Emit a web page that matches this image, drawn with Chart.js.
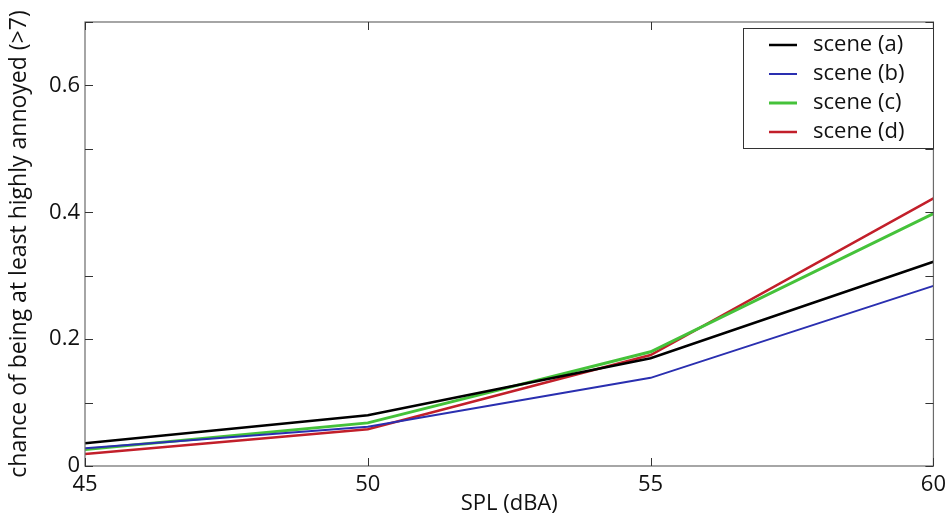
<!DOCTYPE html>
<html>
<head>
<meta charset="utf-8">
<script src="https://cdn.jsdelivr.net/npm/chart.js@4/dist/chart.umd.min.js"></script>
<style>
  html, body { margin: 0; padding: 0; background: #fff; }
  #wrap { width: 952px; height: 517px; }
</style>
</head>
<body>
<div id="wrap"><canvas id="chart" width="952" height="517"></canvas></div>
<script>
// 데이터
const splLevels = [45, 50, 55, 60];
const sceneNames = ['scene (a)', 'scene (b)', 'scene (c)', 'scene (d)'];
const sceneA = [0.036, 0.080, 0.170, 0.322];
const sceneB = [0.028, 0.062, 0.139, 0.284];
const sceneC = [0.026, 0.068, 0.180, 0.398];
const sceneD = [0.019, 0.058, 0.175, 0.422];
const yTickLabels = [0, 0.2, 0.4, 0.6];

const sceneColors = ['#000000', '#2a2fb0', '#45c23a', '#c21f2a'];
const sceneWidths = [2.5, 2, 3, 2.5];

function toPoints(values) {
    return splLevels.map((x, i) => ({ x: x, y: values[i] }));
}

const datasets = [sceneA, sceneB, sceneC, sceneD].map((vals, i) => ({
    label: sceneNames[i],
    data: toPoints(vals),
    borderColor: sceneColors[i],
    backgroundColor: sceneColors[i],
    borderWidth: sceneWidths[i],
    pointRadius: 0,
    tension: 0
}));

// 축 박스와 안쪽 눈금
const boxPlugin = {
    id: 'boxPlugin',
    afterDatasetsDraw(chart) {
        const ctx = chart.ctx;
        const a = chart.chartArea;
        const xs = chart.scales.x;
        const ys = chart.scales.y;
        ctx.save();
        ctx.strokeStyle = '#6b6b6b';
        ctx.lineWidth = 1.2;
        ctx.strokeRect(a.left, a.top, a.right - a.left, a.bottom - a.top);
        ctx.strokeStyle = '#333';
        ctx.lineWidth = 1;
        ctx.beginPath();
        xs.ticks.forEach(t => {
            const px = Math.round(xs.getPixelForValue(t.value)) + 0.5;
            ctx.moveTo(px, a.bottom); ctx.lineTo(px, a.bottom - 8);
            ctx.moveTo(px, a.top); ctx.lineTo(px, a.top + 8);
        });
        ys.ticks.forEach(t => {
            const py = Math.round(ys.getPixelForValue(t.value)) + 0.5;
            ctx.moveTo(a.left, py); ctx.lineTo(a.left + 8, py);
            ctx.moveTo(a.right, py); ctx.lineTo(a.right - 8, py);
        });
        ctx.stroke();
        ctx.restore();
    },
    afterDraw(chart) {
        // 범례
        const ctx = chart.ctx;
        const left = 743, top = 28, w = 190, h = 120;
        ctx.save();
        ctx.fillStyle = '#fff';
        ctx.fillRect(left, top, w, h);
        ctx.strokeStyle = '#333';
        ctx.lineWidth = 1;
        ctx.strokeRect(left + 0.5, top + 0.5, w, h);
        ctx.font = '22px "Open Sans"';
        ctx.textBaseline = 'middle';
        ctx.fillStyle = '#111';
        chart.data.datasets.forEach((ds, i) => {
            const y = top + 17 + i * 29;
            ctx.strokeStyle = ds.borderColor;
            ctx.lineWidth = ds.borderWidth;
            ctx.beginPath();
            ctx.moveTo(769, y); ctx.lineTo(797, y);
            ctx.stroke();
            ctx.fillText(ds.label, 813, y);
        });
        ctx.restore();
    }
};

new Chart(document.getElementById('chart'), {
    type: 'line',
    data: { datasets: datasets },
    options: {
        responsive: false,
        animation: false,
        layout: { padding: { top: 22, right: 15, left: 0, bottom: 0 } },
        plugins: { legend: { display: false }, tooltip: { enabled: false } },
        scales: {
            x: {
                type: 'linear',
                min: 45,
                max: 60,
                grid: { display: false, drawTicks: false },
                border: { display: false },
                ticks: {
                    stepSize: 5,
                    padding: 6,
                    color: '#111',
                    font: { family: 'Open Sans', size: 22 },
                    maxRotation: 0
                },
                title: {
                    display: true,
                    text: 'SPL (dBA)',
                    color: '#111',
                    font: { family: 'Open Sans', size: 22 },
                    padding: 0
                },
                afterFit(scale) { scale.height = 51; }
            },
            y: {
                min: 0,
                max: 0.7,
                grid: { display: false, drawTicks: false },
                border: { display: false },
                ticks: {
                    stepSize: 0.1,
                    padding: 5,
                    color: '#111',
                    font: { family: 'Open Sans', size: 22 },
                    callback(v) {
                        const r = Math.round(v * 10) / 10;
                        return yTickLabels.some(l => Math.abs(l - r) < 1e-6) ? String(r) : '';
                    }
                },
                title: {
                    display: true,
                    text: 'chance of being at least highly annoyed (>7)',
                    color: '#111',
                    font: { family: 'Open Sans', size: 23 },
                    padding: { top: 6, bottom: 0 }
                },
                afterFit(scale) { scale.width = 85; }
            }
        }
    },
    plugins: [boxPlugin]
});
</script>
</body>
</html>
